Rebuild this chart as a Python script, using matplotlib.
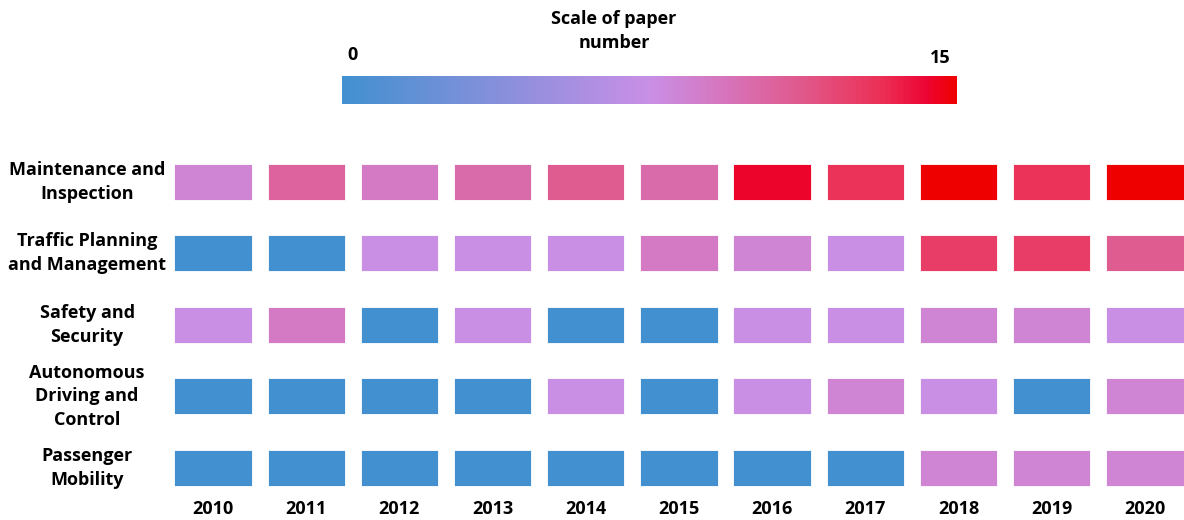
import numpy as np
import matplotlib
matplotlib.use('Agg')
import matplotlib.pyplot as plt
from matplotlib.colors import LinearSegmentedColormap, Normalize
from matplotlib.cm import ScalarMappable

plt.rcParams['font.family'] = ['Open Sans', 'DejaVu Sans']
plt.rcParams['font.weight'] = 'bold'

years = ['2010', '2011', '2012', '2013', '2014', '2015', '2016', '2017', '2018', '2019', '2020']
topics = ['Maintenance and\nInspection', 'Traffic Planning\nand Management', 'Safety and\nSecurity',
          'Autonomous\nDriving and\nControl', 'Passenger\nMobility']

# paper counts (0..15 scale)
maintenance = [8.3, 10.5, 9, 10, 11, 10, 14.4, 13, 15, 13, 15]
traffic     = [0, 0, 7.5, 7.5, 7.5, 9, 8.3, 7.5, 12.5, 12.5, 11]
safety      = [7.5, 9, 0, 7.5, 0, 0, 7.5, 7.5, 8.3, 8.3, 7.5]
autonomous  = [0, 0, 0, 0, 7.5, 0, 7.5, 8.3, 7.5, 0, 8.3]
passenger   = [0, 0, 0, 0, 0, 0, 0, 0, 8.3, 8.3, 8.3]

vmin, vmax = 0, 15

cmap = LinearSegmentedColormap.from_list('paper', [
    (0.0, '#4290d0'), (0.5, '#c98fe6'), (0.62, '#d675bd'), (0.75, '#e0588a'),
    (0.88, '#ec2f55'), (0.95, '#ec0535'), (1.0, '#ee0000')])
norm = Normalize(vmin, vmax)

fig = plt.figure(figsize=(11.84, 5.2), dpi=100)

# main grid of boxes
ax = fig.add_axes([166.5/1184, 1-489.2/520, 1017.5/1184, 343.2/520])
rows = [maintenance, traffic, safety, autonomous, passenger]
x = np.arange(len(years))
for i, vals in enumerate(rows):
    ax.bar(x, 0.5, bottom=i-0.25, width=0.83, color=cmap(norm(np.array(vals))),
           edgecolor='white', linewidth=0.6)
    ax.text(-1.352, i, topics[i], ha='center', va='center', fontsize=13,
            fontweight='bold', linespacing=1.4)

ax.set_xlim(-0.5, 10.42)
ax.set_ylim(4.3, -0.5)
ax.set_xticks(x)
ax.set_xticklabels(years, fontsize=13, fontweight='bold')
ax.tick_params(axis='x', length=0, pad=8)
ax.set_yticks([])
for s in ax.spines.values():
    s.set_visible(False)

# colour scale on top
cax = fig.add_axes([342/1184, 1-104/520, 615/1184, 28/520])
cb = fig.colorbar(ScalarMappable(norm=norm, cmap=cmap), cax=cax, orientation='horizontal')
cb.outline.set_visible(False)
cb.set_ticks([])
fig.text(352/1184, 1-55/520, '0', ha='center', va='center', fontsize=13, fontweight='bold')
fig.text(940/1184, 1-58/520, '15', ha='center', va='center', fontsize=13, fontweight='bold')
fig.text(614/1184, 1-31/520, 'Scale of paper\nnumber', ha='center', va='center', fontsize=13,
         fontweight='bold', linespacing=1.5)

fig.savefig('out.png', dpi=100)
